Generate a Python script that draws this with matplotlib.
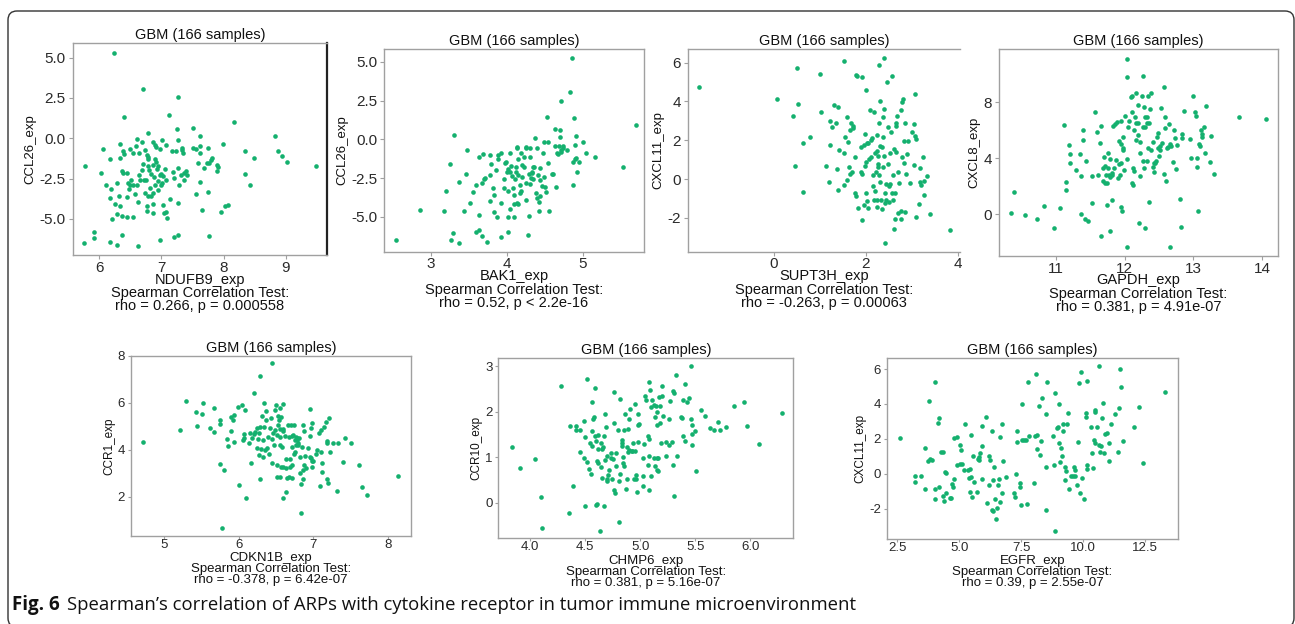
import matplotlib.pyplot as plt
import numpy as np
from matplotlib.patches import FancyBboxPatch

plt.rcParams['font.family'] = ['Liberation Sans', 'DejaVu Sans']
plt.rcParams['axes.unicode_minus'] = False

dot = '#14b06e'
spine_grey = '#a0a0a0'

# ---- data (x = gene1 expression, y = gene2 expression) ----

ndufb9_ccl26 = [(6.24,5.27),(6.71,3.05),(6.40,1.35),(7.12,1.47),(7.26,2.53),(7.50,0.66),(7.25,0.60),(8.17,0.98),(8.83,0.17),(7.99,-0.33),(7.62,0.12),(6.79,0.33),(6.61,-0.04),(6.59,-0.48),(6.33,-0.33),(6.06,-0.64),(5.77,-1.74),(6.03,-2.16),(6.18,-1.29),(6.33,-1.20),(6.39,-0.81),(6.49,-0.68),(6.40,-0.95),(6.55,-0.91),(6.64,-0.91),(6.74,-0.75),(6.87,-0.23),(6.89,-0.44),(6.92,-0.54),(6.97,-0.64),(7.01,-0.12),(7.07,-0.39),(7.17,-0.81),(7.23,-0.81),(7.27,-0.12),(7.33,-0.60),(7.35,-0.91),(7.33,-0.71),(7.51,-0.60),(7.56,-0.64),(7.62,-0.48),(7.62,-0.91),(7.75,-0.62),(7.59,-1.54),(7.68,-1.85),(7.73,-1.54),(7.76,-1.51),(7.82,-1.20),(7.80,-1.37),(7.89,-1.64),(7.91,-1.78),(7.90,-2.05),(8.35,-0.81),(8.48,-1.22),(8.35,-2.22),(8.42,-2.92),(8.87,-0.81),(8.94,-1.12),(9.02,-1.45),(9.48,-1.74),(7.62,-2.72),(7.56,-3.49),(7.75,-3.36),(7.65,-4.48),(7.95,-4.56),(8.02,-4.23),(8.07,-4.17),(7.76,-6.08),(7.26,-6.00),(7.20,-6.16),(6.98,-6.29),(6.63,-6.68),(6.28,-6.62),(6.17,-6.45),(5.76,-6.49),(5.91,-6.18),(5.91,-5.83),(6.36,-5.98),(6.20,-5.00),(6.36,-4.85),(6.44,-4.92),(6.55,-4.90),(6.29,-4.69),(6.26,-4.07),(6.34,-4.23),(6.18,-3.69),(6.32,-3.57),(6.45,-3.63),(6.19,-3.13),(6.11,-2.92),(6.29,-2.76),(6.36,-2.03),(6.39,-2.14),(6.44,-2.18),(6.46,-2.76),(6.49,-2.92),(6.48,-3.13),(6.51,-2.57),(6.55,-2.88),(6.57,-3.49),(6.62,-3.96),(6.60,-2.92),(6.64,-2.30),(6.66,-2.57),(6.68,-1.99),(6.71,-1.58),(6.72,-2.57),(6.73,-3.38),(6.75,-2.57),(6.76,-1.02),(6.78,-1.16),(6.79,-1.27),(6.79,-1.74),(6.80,-1.99),(6.76,-4.19),(6.77,-4.52),(6.79,-3.57),(6.84,-3.59),(6.81,-3.09),(6.89,-2.88),(6.87,-3.38),(6.88,-2.41),(6.92,-1.47),(6.95,-1.70),(6.93,-1.93),(6.95,-2.68),(6.95,-3.24),(6.87,-4.07),(6.87,-4.65),(7.00,-2.24),(6.97,-2.30),(7.02,-2.37),(7.01,-2.76),(7.00,-2.92),(7.03,-4.17),(7.04,-4.63),(7.07,-4.59),(7.09,-4.94),(7.08,-2.57),(7.05,-1.89),(7.13,-3.76),(7.19,-2.10),(7.20,-2.45),(7.26,-1.83),(7.27,-4.02),(7.32,-2.30),(7.36,-2.57),(7.37,-2.16),(7.39,-2.05),(7.41,-2.30),(7.28,-2.88),(6.89,-1.29),(6.87,-1.64),(6.84,-2.20),(6.69,-0.23)]

bak1_ccl26 = [(2.54,-6.49),(2.85,-4.56),(3.20,-3.35),(3.17,-4.65),(3.25,-1.59),(3.31,0.28),(3.29,-6.06),(3.27,-6.49),(3.37,-6.67),(3.37,-2.75),(3.44,-4.62),(3.46,-2.24),(3.47,-0.71),(3.51,-4.09),(3.55,-3.42),(3.59,-2.97),(3.60,-5.98),(3.63,-5.83),(3.64,-4.88),(3.63,-1.16),(3.67,-6.24),(3.67,-2.84),(3.68,-0.95),(3.70,-2.58),(3.71,-2.52),(3.74,-6.62),(3.78,-2.30),(3.78,-3.98),(3.78,-1.01),(3.79,-1.59),(3.82,-3.14),(3.83,-3.59),(3.83,-4.67),(3.87,-4.99),(3.86,-1.98),(3.88,-1.27),(3.89,-1.01),(3.92,-4.13),(3.93,-6.32),(3.93,-0.90),(3.96,-3.16),(3.96,-2.56),(3.98,-1.55),(3.99,-1.44),(4.00,-2.09),(4.01,-1.94),(4.01,-3.33),(4.01,-4.99),(4.02,-5.98),(4.04,-4.47),(4.04,-0.90),(4.06,-1.72),(4.07,-2.37),(4.08,-3.16),(4.09,-4.99),(4.10,-4.19),(4.10,-3.59),(4.11,-2.58),(4.12,-2.09),(4.12,-1.76),(4.13,-0.58),(4.14,-0.47),(4.13,-4.09),(4.15,-4.19),(4.15,-2.30),(4.18,-2.95),(4.18,-3.48),(4.19,-3.33),(4.19,-0.90),(4.20,-2.41),(4.23,-1.81),(4.23,-1.16),(4.25,-0.58),(4.26,-0.47),(4.26,-2.84),(4.26,-3.91),(4.28,-6.17),(4.29,-4.92),(4.29,-2.24),(4.30,-1.16),(4.30,-0.58),(4.32,-2.52),(4.33,-2.19),(4.33,-2.09),(4.34,-2.58),(4.35,-1.81),(4.36,-1.76),(4.37,0.11),(4.38,-3.48),(4.40,-3.81),(4.40,-0.58),(4.41,-2.30),(4.42,-4.60),(4.43,-4.02),(4.44,-3.66),(4.44,-2.62),(4.46,-3.01),(4.48,-0.86),(4.49,-0.19),(4.49,-2.41),(4.51,-3.05),(4.52,-3.38),(4.53,1.42),(4.54,-0.15),(4.55,-1.51),(4.56,-4.60),(4.59,-2.24),(4.61,-2.24),(4.63,0.65),(4.64,-0.43),(4.65,-3.10),(4.66,-0.86),(4.68,-0.97),(4.69,-0.43),(4.70,0.60),(4.70,0.13),(4.71,-0.69),(4.71,2.49),(4.72,-0.84),(4.74,-0.58),(4.74,-0.43),(4.79,-0.69),(4.83,3.03),(4.86,5.23),(4.87,-1.44),(4.87,-2.95),(4.89,1.35),(4.90,-0.37),(4.90,-1.29),(4.91,0.22),(4.91,-1.18),(4.93,-2.09),(4.95,-1.44),(5.01,-0.19),(5.05,-0.86),(5.17,-1.12),(5.53,-1.76),(5.70,0.95),(4.44,-1.87),(4.15,-1.29),(4.20,-1.66),(4.04,-2.13),(4.31,-2.90)]

supt3h_cxcl11 = [(-1.63,4.76),(0.06,4.10),(0.42,3.26),(0.51,5.73),(0.53,3.85),(0.47,0.69),(0.64,1.85),(0.64,-0.65),(0.78,2.18),(1.00,5.41),(1.02,3.47),(1.14,0.69),(1.19,-0.17),(1.21,1.77),(1.23,2.99),(1.27,2.70),(1.30,3.79),(1.36,2.87),(1.38,0.52),(1.39,3.69),(1.39,-0.57),(1.42,1.49),(1.52,1.36),(1.53,6.06),(1.53,-0.33),(1.55,2.18),(1.58,-0.05),(1.59,3.21),(1.62,1.91),(1.63,0.64),(1.66,2.52),(1.66,0.26),(1.68,2.87),(1.69,0.38),(1.71,2.73),(1.72,2.64),(1.76,1.15),(1.77,-0.74),(1.78,5.34),(1.78,-0.88),(1.81,5.30),(1.82,-1.48),(1.89,0.38),(1.90,1.63),(1.91,5.24),(1.91,0.27),(1.92,-2.11),(1.95,1.73),(1.95,-1.34),(1.97,2.32),(1.98,0.67),(2.00,0.88),(2.01,4.58),(2.01,-0.74),(2.02,1.85),(2.03,-1.12),(2.05,-1.51),(2.05,1.84),(2.07,1.01),(2.08,3.54),(2.10,1.12),(2.11,2.01),(2.13,2.09),(2.15,-0.36),(2.16,0.22),(2.17,3.43),(2.18,-1.08),(2.20,1.32),(2.20,-0.60),(2.21,0.38),(2.23,2.25),(2.23,1.46),(2.24,-1.08),(2.24,-1.43),(2.26,0.77),(2.26,0.64),(2.27,1.18),(2.28,0.19),(2.29,5.87),(2.29,2.87),(2.30,4.03),(2.30,1.70),(2.31,-0.15),(2.33,-1.08),(2.34,1.67),(2.34,-1.53),(2.36,2.18),(2.37,3.21),(2.37,0.64),(2.39,3.59),(2.39,1.18),(2.40,6.23),(2.41,-3.30),(2.42,-0.70),(2.42,-1.25),(2.43,-0.27),(2.44,-1.08),(2.46,5.00),(2.47,2.66),(2.47,0.77),(2.49,-0.36),(2.50,-1.17),(2.52,1.32),(2.53,-0.27),(2.55,2.42),(2.56,-0.74),(2.57,5.30),(2.58,-1.08),(2.59,0.21),(2.60,1.53),(2.62,-2.08),(2.61,-2.59),(2.63,-0.74),(2.65,1.39),(2.65,2.73),(2.66,2.87),(2.67,3.26),(2.69,-1.77),(2.70,0.36),(2.72,-0.22),(2.75,-1.63),(2.76,-2.08),(2.77,3.55),(2.78,3.98),(2.79,1.12),(2.80,4.14),(2.82,0.81),(2.82,1.94),(2.84,-1.67),(2.85,2.88),(2.86,0.26),(2.88,1.29),(2.92,1.94),(2.95,-0.19),(2.99,2.44),(3.04,0.74),(3.05,2.85),(3.07,4.38),(3.07,2.21),(3.08,2.08),(3.08,-1.97),(3.14,-1.30),(3.17,-0.17),(3.18,0.57),(3.20,-0.31),(3.23,1.12),(3.26,-0.84),(3.26,-0.09),(3.33,0.15),(3.39,-1.80),(3.82,-2.63)]

gapdh_cxcl8 = [(10.35,0.12),(10.39,1.62),(10.55,-0.07),(10.72,-0.36),(10.83,0.59),(10.97,-1.00),(11.06,0.48),(11.12,6.37),(11.14,1.71),(11.14,2.33),(11.19,4.94),(11.20,3.63),(11.21,4.30),(11.29,3.16),(11.35,4.30),(11.37,2.73),(11.37,0.00),(11.39,6.01),(11.40,5.30),(11.42,-0.36),(11.43,3.82),(11.46,-0.50),(11.52,0.78),(11.53,2.76),(11.57,7.27),(11.59,5.84),(11.61,2.80),(11.64,5.06),(11.65,6.29),(11.65,-1.54),(11.68,3.28),(11.69,2.40),(11.70,4.06),(11.71,2.26),(11.72,3.44),(11.73,2.80),(11.74,0.67),(11.74,2.21),(11.75,3.33),(11.76,4.39),(11.77,2.80),(11.78,2.68),(11.78,-1.16),(11.79,3.92),(11.81,2.80),(11.82,1.02),(11.82,2.92),(11.83,6.29),(11.85,3.28),(11.86,6.44),(11.87,3.87),(11.89,6.58),(11.90,2.57),(11.91,3.59),(11.92,5.25),(11.93,2.80),(11.94,0.50),(11.95,5.01),(11.95,6.65),(11.95,3.63),(11.96,0.26),(11.97,4.58),(11.97,5.49),(11.98,4.70),(11.99,3.16),(12.00,7.03),(12.03,11.09),(12.03,9.76),(12.03,-2.30),(12.04,3.92),(12.05,6.25),(12.06,6.67),(12.09,8.38),(12.10,7.32),(12.10,2.21),(12.11,8.43),(12.12,2.09),(12.12,3.28),(12.14,3.11),(12.14,6.01),(12.15,6.91),(12.16,5.30),(12.16,6.53),(12.17,8.62),(12.19,6.53),(12.20,5.65),(12.20,7.77),(12.21,-0.64),(12.22,5.18),(12.23,2.73),(12.23,4.39),(12.25,8.43),(12.26,6.20),(12.26,3.80),(12.27,9.83),(12.28,7.62),(12.28,3.28),(12.29,-1.00),(12.29,6.96),(12.30,6.20),(12.32,6.48),(12.32,6.96),(12.33,3.82),(12.34,8.43),(12.34,4.70),(12.35,6.48),(12.36,0.90),(12.37,7.48),(12.38,4.58),(12.39,8.67),(12.41,5.18),(12.41,3.40),(12.42,3.04),(12.43,3.63),(12.44,3.63),(12.46,3.80),(12.47,5.53),(12.48,4.70),(12.49,5.77),(12.50,4.16),(12.51,4.87),(12.52,4.58),(12.53,7.55),(12.54,5.06),(12.57,2.87),(12.57,9.05),(12.58,6.96),(12.59,6.13),(12.60,2.40),(12.61,4.70),(12.63,4.82),(12.65,6.44),(12.66,5.01),(12.66,-2.30),(12.68,4.87),(12.70,3.75),(12.72,6.01),(12.73,5.42),(12.75,3.21),(12.76,4.94),(12.80,1.07),(12.82,-0.88),(12.83,5.42),(12.84,5.72),(12.86,7.39),(12.95,5.34),(12.96,3.99),(13.00,8.43),(13.03,7.32),(13.04,7.03),(13.05,3.40),(13.05,3.99),(13.06,0.24),(13.08,5.01),(13.10,4.87),(13.11,6.01),(13.12,5.53),(13.13,5.72),(13.15,6.20),(13.17,4.39),(13.19,7.72),(13.24,3.75),(13.26,5.58),(13.30,2.87),(13.66,6.96),(14.05,6.79)]

cdkn1b_ccr1 = [(4.72,4.33),(5.21,4.84),(5.29,6.09),(5.42,5.62),(5.44,5.01),(5.51,5.54),(5.52,5.97),(5.62,4.91),(5.67,4.77),(5.67,5.77),(5.75,5.26),(5.75,5.09),(5.75,3.39),(5.80,3.16),(5.78,0.65),(5.84,4.47),(5.86,4.16),(5.89,4.78),(5.90,5.38),(5.92,5.26),(5.93,4.33),(5.94,5.48),(5.99,5.83),(6.01,2.50),(6.05,5.91),(6.06,4.41),(6.07,4.67),(6.08,5.69),(6.07,4.50),(6.10,1.93),(6.14,4.30),(6.15,4.70),(6.17,3.42),(6.18,4.52),(6.20,6.41),(6.21,4.65),(6.22,4.77),(6.24,4.06),(6.24,4.91),(6.26,4.47),(6.27,3.77),(6.27,4.72),(6.28,4.95),(6.29,7.13),(6.29,2.74),(6.30,4.04),(6.31,5.43),(6.32,4.41),(6.33,3.70),(6.34,4.95),(6.34,5.97),(6.35,3.99),(6.36,5.26),(6.37,5.66),(6.38,4.06),(6.39,4.55),(6.40,3.84),(6.42,4.91),(6.43,5.33),(6.44,7.67),(6.44,3.42),(6.45,4.44),(6.46,4.70),(6.47,4.20),(6.48,5.69),(6.49,4.84),(6.50,5.90),(6.51,4.62),(6.52,3.35),(6.52,2.85),(6.53,5.05),(6.53,5.43),(6.54,5.26),(6.55,2.85),(6.55,4.55),(6.55,4.20),(6.56,5.76),(6.56,4.89),(6.57,5.38),(6.57,3.25),(6.58,4.10),(6.59,4.89),(6.59,1.93),(6.60,5.94),(6.60,4.81),(6.60,3.25),(6.62,4.58),(6.63,2.21),(6.63,3.21),(6.64,3.59),(6.65,2.79),(6.66,5.05),(6.67,4.55),(6.67,2.85),(6.69,3.28),(6.69,3.59),(6.70,5.05),(6.71,4.58),(6.71,2.78),(6.72,4.10),(6.72,3.35),(6.73,4.62),(6.74,3.84),(6.74,5.05),(6.75,4.41),(6.76,3.91),(6.77,4.55),(6.77,4.20),(6.78,4.48),(6.78,4.41),(6.79,4.20),(6.80,4.30),(6.81,4.52),(6.82,2.99),(6.82,3.70),(6.83,1.32),(6.84,2.54),(6.85,4.10),(6.86,3.16),(6.86,5.05),(6.86,2.74),(6.87,3.36),(6.88,4.81),(6.89,3.73),(6.90,3.21),(6.93,4.06),(6.95,5.72),(6.95,3.70),(6.96,4.58),(6.97,3.63),(6.97,4.91),(6.98,3.53),(6.98,5.15),(6.98,3.25),(6.99,3.53),(7.03,3.84),(7.05,3.99),(7.08,4.72),(7.09,2.45),(7.10,3.91),(7.11,4.84),(7.12,3.42),(7.12,3.06),(7.15,4.95),(7.17,5.19),(7.18,4.30),(7.19,4.38),(7.19,2.74),(7.20,2.60),(7.21,5.33),(7.23,3.91),(7.27,4.30),(7.33,4.30),(7.32,2.26),(7.40,3.49),(7.42,4.52),(7.51,4.30),(7.62,3.35),(7.65,2.43),(7.72,2.07),(8.14,2.89)]

chmp6_ccr10 = [(3.83,1.23),(3.91,0.77),(4.04,0.96),(4.10,0.12),(4.11,-0.56),(4.28,2.56),(4.35,-0.23),(4.36,1.70),(4.39,0.37),(4.42,1.61),(4.42,1.70),(4.45,1.61),(4.45,1.11),(4.49,1.81),(4.50,1.45),(4.49,0.99),(4.50,-0.07),(4.52,2.72),(4.52,0.89),(4.53,0.74),(4.54,1.31),(4.55,0.64),(4.56,2.22),(4.56,1.59),(4.56,1.25),(4.57,1.85),(4.58,1.89),(4.59,2.53),(4.59,1.46),(4.60,-0.04),(4.60,1.35),(4.61,0.91),(4.61,-0.02),(4.62,0.87),(4.62,1.49),(4.62,1.18),(4.63,-0.62),(4.64,0.79),(4.64,1.31),(4.65,0.54),(4.65,1.18),(4.66,1.22),(4.67,-0.06),(4.67,1.46),(4.68,1.95),(4.68,0.95),(4.69,1.67),(4.70,1.02),(4.70,0.52),(4.70,0.47),(4.71,0.62),(4.72,0.73),(4.73,0.98),(4.73,1.09),(4.74,0.52),(4.75,0.97),(4.76,1.75),(4.76,0.29),(4.76,2.43),(4.77,0.21),(4.78,1.09),(4.78,0.80),(4.80,1.61),(4.81,-0.43),(4.81,0.47),(4.82,0.64),(4.82,2.28),(4.83,1.39),(4.83,1.31),(4.83,1.25),(4.84,0.87),(4.84,1.01),(4.85,0.80),(4.85,1.61),(4.86,1.96),(4.87,0.30),(4.88,1.23),(4.88,0.52),(4.89,1.11),(4.89,1.62),(4.90,1.84),(4.90,1.17),(4.91,2.06),(4.92,1.15),(4.92,1.15),(4.93,1.31),(4.94,0.52),(4.95,1.15),(4.95,2.18),(4.96,0.62),(4.96,0.52),(4.97,0.23),(4.98,1.96),(4.98,1.33),(4.98,1.72),(4.99,1.73),(5.02,0.36),(5.02,0.58),(5.02,0.98),(5.03,1.30),(5.04,2.34),(5.05,2.27),(5.07,0.84),(5.07,1.47),(5.08,1.02),(5.08,0.29),(5.08,2.66),(5.08,1.41),(5.09,2.49),(5.10,0.58),(5.10,2.11),(5.11,2.27),(5.12,2.16),(5.12,0.99),(5.13,1.88),(5.13,0.81),(5.14,2.13),(5.15,0.73),(5.15,1.72),(5.15,0.99),(5.15,1.99),(5.16,0.70),(5.16,0.98),(5.17,2.33),(5.18,1.75),(5.18,2.13),(5.19,1.31),(5.20,2.56),(5.20,2.34),(5.21,1.91),(5.23,1.02),(5.23,1.33),(5.26,1.84),(5.26,1.28),(5.27,2.23),(5.29,1.33),(5.30,0.83),(5.30,2.45),(5.31,2.41),(5.31,0.15),(5.32,2.81),(5.33,1.02),(5.37,1.89),(5.38,1.86),(5.39,2.27),(5.39,1.46),(5.41,1.35),(5.41,2.62),(5.42,2.22),(5.44,2.31),(5.46,1.85),(5.47,1.72),(5.46,3.00),(5.47,1.28),(5.47,1.51),(5.50,1.57),(5.51,0.69),(5.55,2.05),(5.59,1.91),(5.63,1.64),(5.67,1.61),(5.71,1.78),(5.72,1.61),(5.78,1.67),(5.85,2.12),(5.94,2.21),(5.97,1.68),(6.08,1.30),(6.29,1.97)]

egfr_cxcl11 = [(2.61,2.03),(3.21,-0.11),(3.21,-0.46),(3.45,-0.11),(3.60,1.45),(3.62,-0.88),(3.74,0.73),(3.78,4.17),(3.82,0.82),(3.88,0.78),(4.02,5.28),(4.01,-0.88),(4.03,-1.47),(4.15,2.93),(4.18,3.18),(4.18,-0.75),(4.26,1.22),(4.35,1.26),(4.35,-1.26),(4.38,-1.55),(4.44,0.10),(4.45,0.06),(4.48,-1.09),(4.62,-1.42),(4.66,-1.38),(4.69,-0.59),(4.74,-0.75),(4.78,2.03),(4.80,-0.33),(4.89,2.09),(4.92,0.50),(5.01,1.65),(5.03,0.54),(5.08,1.36),(5.12,0.56),(5.17,0.21),(5.24,2.83),(5.34,0.21),(5.37,-0.23),(5.41,0.25),(5.41,-1.07),(5.49,-0.17),(5.49,2.20),(5.51,-1.32),(5.54,1.01),(5.60,-0.50),(5.70,-1.07),(5.75,0.82),(5.78,0.78),(5.78,0.98),(5.85,1.21),(5.90,-0.29),(5.93,2.76),(5.93,1.61),(6.08,3.27),(6.13,-1.67),(6.20,1.01),(6.21,-0.65),(6.24,0.78),(6.30,-2.09),(6.32,2.43),(6.34,-2.14),(6.37,-0.36),(6.40,0.36),(6.44,-1.47),(6.47,-2.58),(6.51,-1.95),(6.57,-0.65),(6.61,-0.33),(6.64,2.09),(6.64,-1.63),(6.71,2.83),(6.72,-1.09),(6.75,0.73),(6.88,-0.17),(7.20,-1.09),(7.24,-1.32),(7.27,-0.04),(7.31,2.45),(7.31,1.84),(7.45,-0.56),(7.46,-0.75),(7.47,-1.78),(7.53,4.00),(7.54,1.93),(7.61,1.93),(7.69,1.93),(7.72,-1.74),(7.77,5.28),(7.82,2.16),(8.01,-0.56),(8.05,2.16),(8.08,5.70),(8.15,2.22),(8.15,1.40),(8.20,3.89),(8.25,1.07),(8.28,1.88),(8.32,4.33),(8.48,3.43),(8.48,0.40),(8.51,-2.09),(8.53,5.24),(8.79,2.16),(8.83,0.50),(8.87,4.61),(8.87,-3.27),(8.94,2.62),(8.98,2.66),(9.01,4.00),(9.03,1.74),(9.06,0.69),(9.10,1.49),(9.15,1.03),(9.17,2.47),(9.19,2.83),(9.26,-0.36),(9.27,0.40),(9.30,0.17),(9.33,2.83),(9.37,3.50),(9.44,-0.88),(9.52,-0.13),(9.57,-0.13),(9.62,0.36),(9.65,0.21),(9.66,-0.13),(9.74,-0.67),(9.77,1.84),(9.83,5.19),(9.87,-1.09),(9.91,5.82),(9.96,-0.27),(10.04,-1.47),(10.09,3.23),(10.11,3.50),(10.13,0.25),(10.15,0.50),(10.15,5.34),(10.32,2.70),(10.36,1.17),(10.40,0.31),(10.43,1.93),(10.45,1.78),(10.48,3.66),(10.49,3.56),(10.54,2.66),(10.65,6.18),(10.64,1.65),(10.67,1.26),(10.72,1.59),(10.77,3.18),(10.81,4.08),(10.84,1.17),(10.86,2.28),(10.96,2.35),(11.04,1.78),(11.05,0.73),(11.10,2.83),(11.28,3.43),(11.38,1.26),(11.42,3.75),(11.46,6.01),(11.50,4.96),(11.60,1.89),(12.06,2.66),(12.26,3.81),(12.42,0.59),(13.29,4.71)]

# axis names, statistics, ticks
x_names = ['NDUFB9_exp', 'BAK1_exp', 'SUPT3H_exp', 'GAPDH_exp', 'CDKN1B_exp', 'CHMP6_exp', 'EGFR_exp']
y_names = ['CCL26_exp', 'CCL26_exp', 'CXCL11_exp', 'CXCL8_exp', 'CCR1_exp', 'CCR10_exp', 'CXCL11_exp']
stats = ['rho = 0.266, p = 0.000558', 'rho = 0.52, p < 2.2e-16', 'rho = -0.263, p = 0.00063',
         'rho = 0.381, p = 4.91e-07', 'rho = -0.378, p = 6.42e-07', 'rho = 0.381, p = 5.16e-07',
         'rho = 0.39, p = 2.55e-07']
x_ticks = [[6, 7, 8, 9], [3, 4, 5], [0, 2, 4], [11, 12, 13, 14], [5, 6, 7, 8],
           [4.0, 4.5, 5.0, 5.5, 6.0], [2.5, 5.0, 7.5, 10.0, 12.5]]
x_tick_labels = [['6', '7', '8', '9'], ['3', '4', '5'], ['0', '2', '4'], ['11', '12', '13', '14'],
                 ['5', '6', '7', '8'], ['4.0', '4.5', '5.0', '5.5', '6.0'], ['2.5', '5.0', '7.5', '10.0', '12.5']]
y_ticks = [[-5, -2.5, 0, 2.5, 5], [-5, -2.5, 0, 2.5, 5], [-2, 0, 2, 4, 6], [0, 4, 8],
           [2, 4, 6, 8], [0, 1, 2, 3], [-2, 0, 2, 4, 6]]
y_tick_labels = [['-5.0', '-2.5', '0.0', '2.5', '5.0'], ['-5.0', '-2.5', '0.0', '2.5', '5.0'],
                 ['-2', '0', '2', '4', '6'], ['0', '4', '8'], ['2', '4', '6', '8'],
                 ['0', '1', '2', '3'], ['-2', '0', '2', '4', '6']]
title = 'GBM (166 samples)'

panels_data = [ndufb9_ccl26, bak1_ccl26, supt3h_cxcl11, gapdh_cxcl8, cdkn1b_ccr1, chmp6_ccr10, egfr_cxcl11]

# layout (figure fractions) and axis limits
rects = [[0.0561, 0.5913, 0.1964, 0.3397], [0.2965, 0.5966, 0.2008, 0.3244],
         [0.5310, 0.5966, 0.2103, 0.3244], [0.7714, 0.5897, 0.2154, 0.3312],
         [0.1009, 0.1410, 0.2164, 0.2889], [0.3848, 0.1373, 0.2278, 0.2885],
         [0.6847, 0.1362, 0.2252, 0.2896]]
xlims = [(5.573, 9.66), (2.38, 5.81), (-1.87, 4.04), (10.17, 14.23), (4.55, 8.31), (3.71, 6.39), (2.07, 13.83)]
ylims = [(-7.25, 5.91), (-7.25, 5.81), (-3.74, 6.68), (-2.97, 11.76), (0.33, 8.0), (-0.78, 3.18), (-3.75, 6.62)]

fig = plt.figure(figsize=(12.95, 6.24), dpi=100)

for i, pts in enumerate(panels_data):
    top = i < 4
    ax = fig.add_axes(rects[i])
    xy = np.array(pts)
    ax.scatter(xy[:, 0], xy[:, 1], s=11, color=dot, linewidths=0, zorder=3)
    ax.set_xlim(*xlims[i])
    ax.set_ylim(*ylims[i])
    ax.set_xticks(x_ticks[i])
    ax.set_xticklabels(x_tick_labels[i])
    ax.set_yticks(y_ticks[i])
    ax.set_yticklabels(y_tick_labels[i])
    for s in ax.spines.values():
        s.set_color(spine_grey)
        s.set_linewidth(1.0)
    if i == 0:
        ax.spines['right'].set_color('#222222')
        ax.spines['right'].set_linewidth(1.6)
    if i == 2:
        ax.spines['right'].set_visible(False)
    ax.set_title(title, fontsize=10.5, pad=3, color='#111111')
    if top:
        ax.tick_params(colors=spine_grey, labelcolor='#2a2a2a', labelsize=11, length=3, width=0.8)
        ax.tick_params(axis='x', pad=1)
        ax.tick_params(axis='y', pad=2)
        ax.set_xlabel(x_names[i] + '\nSpearman Correlation Test:\n' + stats[i],
                      fontsize=10.5, linespacing=0.95, labelpad=-1.5, color='#111111')
        ax.set_ylabel(y_names[i], fontsize=9.5, labelpad=2, color='#111111')
    else:
        ax.tick_params(colors=spine_grey, labelcolor='#2a2a2a', labelsize=9.5, length=2, width=0.8)
        ax.tick_params(axis='x', pad=0)
        ax.tick_params(axis='y', pad=2)
        ax.set_xlabel(x_names[i] + '\nSpearman Correlation Test:\n' + stats[i],
                      fontsize=9.5, linespacing=0.89, labelpad=1.2, color='#111111')
        ax.set_ylabel(y_names[i], fontsize=8.5, labelpad=2, color='#111111')

# caption
fig.text(12 / 1295, 1 - 605 / 624, 'Fig. 6', fontsize=13.5, fontweight='bold', va='center',
         family=['Open Sans', 'DejaVu Sans'], color='#111111')
fig.text(67 / 1295, 1 - 605 / 624,
         'Spearman\u2019s correlation of ARPs with cytokine receptor in tumor immune microenvironment',
         fontsize=13.3, va='center', family=['Open Sans', 'DejaVu Sans'], color='#111111')

# rounded frame around the figure
frame = FancyBboxPatch((0.08, -0.03), 12.86, 6.16, boxstyle='round,pad=0,rounding_size=0.09',
                       transform=fig.dpi_scale_trans, fill=False, ec='#333333', lw=1.0)
fig.patches.append(frame)

fig.savefig('out.png', dpi=100)
